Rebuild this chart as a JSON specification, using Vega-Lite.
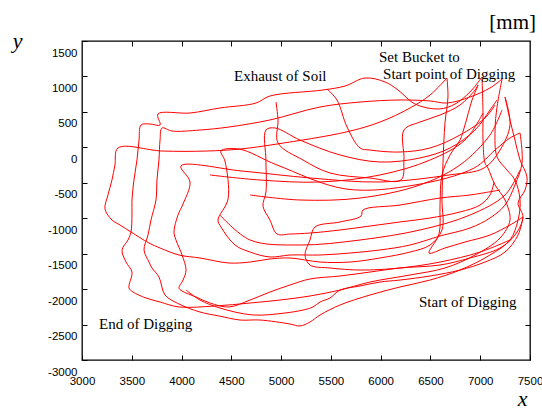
{
  "$schema": "https://vega.github.io/schema/vega-lite/v6.json",
  "width": 448,
  "height": 319,
  "autosize": {"type": "none"},
  "padding": {"left": 82, "top": 41, "right": 12, "bottom": 49},
  "background": "white",
  "config": {
    "view": {"stroke": "#000", "strokeWidth": 1.3},
    "axis": {"domain": false, "grid": false, "tickColor": "#000", "tickWidth": 1, "labelColor": "#000", "labelFont": "Liberation Sans", "labelFontSize": 11.5, "labelFlush": false}
  },
  "title": {"text": "[mm]", "anchor": "end", "frame": "group", "orient": "top", "font": "Liberation Serif", "fontSize": 21, "fontWeight": "normal", "color": "#000", "offset": -4, "dx": 6},
  "datasets": {
    "paths": [
      {"c":1,"i":1,"x":6666,"y":978},{"c":1,"i":2,"x":6676,"y":710},{"c":1,"i":3,"x":6646,"y":343},{"c":1,"i":4,"x":6626,"y":-221},{"c":1,"i":5,"x":6616,"y":-743},{"c":1,"i":6,"x":6616,"y":-1166},{"c":1,"i":7,"x":6496,"y":-1378},{"c":1,"i":8,"x":6295,"y":-1477},{"c":1,"i":9,"x":5993,"y":-1561},{"c":1,"i":10,"x":5692,"y":-1618},{"c":1,"i":11,"x":5391,"y":-1618},{"c":1,"i":12,"x":5089,"y":-1561},{"c":1,"i":13,"x":4888,"y":-1575},{"c":1,"i":14,"x":4688,"y":-1618},{"c":1,"i":15,"x":4477,"y":-1632},{"c":1,"i":16,"x":4185,"y":-1561},{"c":1,"i":17,"x":3974,"y":-1519},{"c":1,"i":18,"x":3784,"y":-1420},{"c":1,"i":19,"x":3673,"y":-1350},{"c":1,"i":20,"x":3492,"y":-1194},{"c":1,"i":21,"x":3382,"y":-1096},{"c":1,"i":22,"x":3301,"y":-1025},{"c":1,"i":23,"x":3231,"y":-870},{"c":1,"i":24,"x":3261,"y":-672},{"c":1,"i":25,"x":3301,"y":-461},{"c":1,"i":26,"x":3331,"y":-249},{"c":1,"i":27,"x":3362,"y":-9},{"c":1,"i":28,"x":3804,"y":-52},{"c":1,"i":29,"x":4256,"y":-52},{"c":1,"i":30,"x":4587,"y":-24},{"c":1,"i":31,"x":4959,"y":47},{"c":1,"i":32,"x":5652,"y":216},{"c":1,"i":33,"x":5993,"y":357},{"c":1,"i":34,"x":6295,"y":555},{"c":1,"i":35,"x":6496,"y":738},{"c":1,"i":36,"x":6666,"y":978},

      {"c":2,"i":1,"x":7018,"y":992},{"c":2,"i":2,"x":7028,"y":484},{"c":2,"i":3,"x":7028,"y":103},{"c":2,"i":4,"x":7048,"y":-221},{"c":2,"i":5,"x":7078,"y":-292},{"c":2,"i":6,"x":7149,"y":-531},{"c":2,"i":7,"x":7249,"y":-743},{"c":2,"i":8,"x":7299,"y":-1025},{"c":2,"i":9,"x":7199,"y":-1279},{"c":2,"i":10,"x":6948,"y":-1519},{"c":2,"i":11,"x":6646,"y":-1702},{"c":2,"i":12,"x":6295,"y":-1801},{"c":2,"i":13,"x":5893,"y":-1900},{"c":2,"i":14,"x":5592,"y":-2013},{"c":2,"i":15,"x":5290,"y":-2097},{"c":2,"i":16,"x":4989,"y":-2154},{"c":2,"i":17,"x":4688,"y":-2196},{"c":2,"i":18,"x":4336,"y":-2238},{"c":2,"i":19,"x":3974,"y":-2252},{"c":2,"i":20,"x":3784,"y":-2182},{"c":2,"i":21,"x":3643,"y":-2125},{"c":2,"i":22,"x":3512,"y":-2041},{"c":2,"i":23,"x":3472,"y":-1984},{"c":2,"i":24,"x":3502,"y":-1759},{"c":2,"i":25,"x":3442,"y":-1618},{"c":2,"i":26,"x":3402,"y":-1448},{"c":2,"i":27,"x":3462,"y":-1307},{"c":2,"i":28,"x":3492,"y":-1194},{"c":2,"i":29,"x":3502,"y":-955},{"c":2,"i":30,"x":3502,"y":-743},{"c":2,"i":31,"x":3522,"y":-461},{"c":2,"i":32,"x":3552,"y":-179},{"c":2,"i":33,"x":3573,"y":103},{"c":2,"i":34,"x":3593,"y":315},{"c":2,"i":35,"x":3683,"y":329},{"c":2,"i":36,"x":3784,"y":315},{"c":2,"i":37,"x":3763,"y":470},{"c":2,"i":38,"x":4085,"y":484},{"c":2,"i":39,"x":4386,"y":555},{"c":2,"i":40,"x":4748,"y":625},{"c":2,"i":41,"x":4888,"y":724},{"c":2,"i":42,"x":5421,"y":809},{"c":2,"i":43,"x":5642,"y":865},{"c":2,"i":44,"x":5843,"y":978},{"c":2,"i":45,"x":6044,"y":922},{"c":2,"i":46,"x":6174,"y":809},{"c":2,"i":47,"x":6345,"y":611},{"c":2,"i":48,"x":6586,"y":541},{"c":2,"i":49,"x":6747,"y":611},{"c":2,"i":50,"x":6897,"y":781},{"c":2,"i":51,"x":7018,"y":992},

      {"c":3,"i":1,"x":7219,"y":964},{"c":3,"i":2,"x":7169,"y":569},{"c":3,"i":3,"x":7149,"y":244},{"c":3,"i":4,"x":7169,"y":-136},{"c":3,"i":5,"x":7269,"y":-320},{"c":3,"i":6,"x":7349,"y":-461},{"c":3,"i":7,"x":7400,"y":-743},{"c":3,"i":8,"x":7380,"y":-1025},{"c":3,"i":9,"x":7299,"y":-1307},{"c":3,"i":10,"x":7098,"y":-1519},{"c":3,"i":11,"x":6797,"y":-1731},{"c":3,"i":12,"x":6496,"y":-1872},{"c":3,"i":13,"x":6194,"y":-1970},{"c":3,"i":14,"x":5893,"y":-2083},{"c":3,"i":15,"x":5592,"y":-2224},{"c":3,"i":16,"x":5391,"y":-2365},{"c":3,"i":17,"x":5290,"y":-2464},{"c":3,"i":18,"x":5190,"y":-2520},{"c":3,"i":19,"x":5089,"y":-2492},{"c":3,"i":20,"x":4788,"y":-2436},{"c":3,"i":21,"x":4587,"y":-2436},{"c":3,"i":22,"x":4376,"y":-2379},{"c":3,"i":23,"x":4185,"y":-2323},{"c":3,"i":24,"x":3974,"y":-2210},{"c":3,"i":25,"x":3834,"y":-2083},{"c":3,"i":26,"x":3773,"y":-1829},{"c":3,"i":27,"x":3703,"y":-1702},{"c":3,"i":28,"x":3673,"y":-1618},{"c":3,"i":29,"x":3623,"y":-1448},{"c":3,"i":30,"x":3663,"y":-1237},{"c":3,"i":31,"x":3693,"y":-1025},{"c":3,"i":32,"x":3743,"y":-743},{"c":3,"i":33,"x":3753,"y":-461},{"c":3,"i":34,"x":3773,"y":-179},{"c":3,"i":35,"x":3784,"y":103},{"c":3,"i":36,"x":3804,"y":273},{"c":3,"i":37,"x":3904,"y":230},{"c":3,"i":38,"x":4185,"y":244},{"c":3,"i":39,"x":4477,"y":287},{"c":3,"i":40,"x":4888,"y":386},{"c":3,"i":41,"x":5391,"y":569},{"c":3,"i":42,"x":5793,"y":639},{"c":3,"i":43,"x":6194,"y":668},{"c":3,"i":44,"x":6496,"y":654},{"c":3,"i":45,"x":6666,"y":625},{"c":3,"i":46,"x":6897,"y":710},{"c":3,"i":47,"x":7098,"y":837},{"c":3,"i":48,"x":7219,"y":964},

      {"c":4,"i":1,"x":7249,"y":710},{"c":4,"i":2,"x":7299,"y":386},{"c":4,"i":3,"x":7349,"y":103},{"c":4,"i":4,"x":7400,"y":-179},{"c":4,"i":5,"x":7470,"y":-419},{"c":4,"i":6,"x":7450,"y":-602},{"c":4,"i":7,"x":7380,"y":-785},{"c":4,"i":8,"x":7430,"y":-983},{"c":4,"i":9,"x":7349,"y":-1237},{"c":4,"i":10,"x":7199,"y":-1420},{"c":4,"i":11,"x":6897,"y":-1561},{"c":4,"i":12,"x":6596,"y":-1660},{"c":4,"i":13,"x":6194,"y":-1702},{"c":4,"i":14,"x":5893,"y":-1759},{"c":4,"i":15,"x":5592,"y":-1815},{"c":4,"i":16,"x":5290,"y":-1857},{"c":4,"i":17,"x":5089,"y":-1942},{"c":4,"i":18,"x":4888,"y":-2041},{"c":4,"i":19,"x":4688,"y":-2154},{"c":4,"i":20,"x":4477,"y":-2252},{"c":4,"i":21,"x":4286,"y":-2196},{"c":4,"i":22,"x":4145,"y":-2111},{"c":4,"i":23,"x":4005,"y":-2027},{"c":4,"i":24,"x":3974,"y":-1984},{"c":4,"i":25,"x":4015,"y":-1872},{"c":4,"i":26,"x":4045,"y":-1731},{"c":4,"i":27,"x":4005,"y":-1519},{"c":4,"i":28,"x":3944,"y":-1307},{"c":4,"i":29,"x":3924,"y":-1194},{"c":4,"i":30,"x":3964,"y":-955},{"c":4,"i":31,"x":4015,"y":-799},{"c":4,"i":32,"x":4085,"y":-489},{"c":4,"i":33,"x":3994,"y":-263},{"c":4,"i":34,"x":4607,"y":-334},{"c":4,"i":35,"x":5300,"y":-433},{"c":4,"i":36,"x":5993,"y":-489},{"c":4,"i":37,"x":6687,"y":-390},{"c":4,"i":38,"x":7038,"y":-292},{"c":4,"i":39,"x":7199,"y":-38},{"c":4,"i":40,"x":7299,"y":315},{"c":4,"i":41,"x":7249,"y":710},

      {"c":5,"i":1,"x":7400,"y":202},{"c":5,"i":2,"x":7420,"y":-221},{"c":5,"i":3,"x":7349,"y":-531},{"c":5,"i":4,"x":7249,"y":-814},{"c":5,"i":5,"x":7098,"y":-997},{"c":5,"i":6,"x":6897,"y":-1138},{"c":5,"i":7,"x":6596,"y":-1251},{"c":5,"i":8,"x":6295,"y":-1378},{"c":5,"i":9,"x":5993,"y":-1448},{"c":5,"i":10,"x":5692,"y":-1491},{"c":5,"i":11,"x":5391,"y":-1519},{"c":5,"i":12,"x":5089,"y":-1519},{"c":5,"i":13,"x":4888,"y":-1547},{"c":5,"i":14,"x":4688,"y":-1477},{"c":5,"i":15,"x":4537,"y":-1378},{"c":5,"i":16,"x":4396,"y":-1124},{"c":5,"i":17,"x":4366,"y":-1025},{"c":5,"i":18,"x":4467,"y":-729},{"c":5,"i":19,"x":4436,"y":-193},{"c":5,"i":20,"x":4396,"y":-52},{"c":5,"i":21,"x":4577,"y":-24},{"c":5,"i":22,"x":4959,"y":-249},{"c":5,"i":23,"x":5652,"y":-588},{"c":5,"i":24,"x":6345,"y":-531},{"c":5,"i":25,"x":6938,"y":-292},{"c":5,"i":26,"x":7149,"y":-38},{"c":5,"i":27,"x":7299,"y":132},{"c":5,"i":28,"x":7400,"y":202},

      {"c":6,"i":1,"x":7139,"y":-489},{"c":6,"i":2,"x":7098,"y":-672},{"c":6,"i":3,"x":6998,"y":-814},{"c":6,"i":4,"x":6797,"y":-912},{"c":6,"i":5,"x":6496,"y":-997},{"c":6,"i":6,"x":6194,"y":-1053},{"c":6,"i":7,"x":5893,"y":-1110},{"c":6,"i":8,"x":5592,"y":-1166},{"c":6,"i":9,"x":5290,"y":-1209},{"c":6,"i":10,"x":5089,"y":-1223},{"c":6,"i":11,"x":4959,"y":-1223},{"c":6,"i":12,"x":4888,"y":-1025},{"c":6,"i":13,"x":4818,"y":-828},{"c":6,"i":14,"x":4848,"y":-630},{"c":6,"i":15,"x":4848,"y":-193},{"c":6,"i":16,"x":4848,"y":244},{"c":6,"i":17,"x":4939,"y":273},{"c":6,"i":18,"x":5190,"y":103},{"c":6,"i":19,"x":5592,"y":-108},{"c":6,"i":20,"x":5993,"y":-207},{"c":6,"i":21,"x":6395,"y":-150},{"c":6,"i":22,"x":6697,"y":-9},{"c":6,"i":23,"x":6948,"y":244},{"c":6,"i":24,"x":7098,"y":527},{"c":6,"i":25,"x":7169,"y":668},

      {"c":7,"i":1,"x":4949,"y":639},{"c":7,"i":2,"x":4969,"y":386},{"c":7,"i":3,"x":4969,"y":61},{"c":7,"i":4,"x":5220,"y":-179},{"c":7,"i":5,"x":5491,"y":-362},{"c":7,"i":6,"x":5893,"y":-433},{"c":7,"i":7,"x":6204,"y":-461},{"c":7,"i":8,"x":6234,"y":-179},{"c":7,"i":9,"x":6234,"y":244},{"c":7,"i":10,"x":6395,"y":357},{"c":7,"i":11,"x":6596,"y":456},{"c":7,"i":12,"x":6797,"y":597},{"c":7,"i":13,"x":6948,"y":809},{"c":7,"i":14,"x":6978,"y":879},{"c":7,"i":15,"x":6918,"y":668},{"c":7,"i":16,"x":6847,"y":315},{"c":7,"i":17,"x":6797,"y":103},{"c":7,"i":18,"x":6697,"y":-108},{"c":7,"i":19,"x":6616,"y":-390},{"c":7,"i":20,"x":6596,"y":-814},{"c":7,"i":21,"x":6586,"y":-1223},{"c":7,"i":22,"x":6486,"y":-1491},{"c":7,"i":23,"x":6646,"y":-1420},{"c":7,"i":24,"x":6847,"y":-1336},{"c":7,"i":25,"x":7098,"y":-1237},{"c":7,"i":26,"x":7299,"y":-1096},{"c":7,"i":27,"x":7430,"y":-983},

      {"c":8,"i":1,"x":5461,"y":823},{"c":8,"i":2,"x":5561,"y":668},{"c":8,"i":3,"x":5662,"y":287},{"c":8,"i":4,"x":5793,"y":-9},{"c":8,"i":5,"x":5893,"y":-38},{"c":8,"i":6,"x":6194,"y":-66},{"c":8,"i":7,"x":6496,"y":-9},{"c":8,"i":8,"x":6797,"y":174},{"c":8,"i":9,"x":7048,"y":414},{"c":8,"i":10,"x":7149,"y":597},

      {"c":9,"i":1,"x":7199,"y":-602},{"c":9,"i":2,"x":6897,"y":-672},{"c":9,"i":3,"x":6596,"y":-715},{"c":9,"i":4,"x":6194,"y":-814},{"c":9,"i":5,"x":5823,"y":-884},{"c":9,"i":6,"x":5803,"y":-969},{"c":9,"i":7,"x":5592,"y":-1053},{"c":9,"i":8,"x":5340,"y":-1124},{"c":9,"i":9,"x":5290,"y":-1307},{"c":9,"i":10,"x":5240,"y":-1519},{"c":9,"i":11,"x":5290,"y":-1660},{"c":9,"i":12,"x":5491,"y":-1702},{"c":9,"i":13,"x":5793,"y":-1731},{"c":9,"i":14,"x":6194,"y":-1702},{"c":9,"i":15,"x":6596,"y":-1618},{"c":9,"i":16,"x":6998,"y":-1477},{"c":9,"i":17,"x":7299,"y":-1307},

      {"c":10,"i":1,"x":7430,"y":-983},{"c":10,"i":2,"x":7380,"y":-1237},{"c":10,"i":3,"x":7249,"y":-1477},{"c":10,"i":4,"x":7048,"y":-1618},{"c":10,"i":5,"x":6797,"y":-1731},{"c":10,"i":6,"x":6496,"y":-1815},{"c":10,"i":7,"x":6194,"y":-1872},{"c":10,"i":8,"x":5993,"y":-1900},{"c":10,"i":9,"x":5793,"y":-1956},{"c":10,"i":10,"x":5592,"y":-2013},{"c":10,"i":11,"x":5491,"y":-2125},{"c":10,"i":12,"x":5391,"y":-2182},{"c":10,"i":13,"x":5320,"y":-2252},{"c":10,"i":14,"x":5220,"y":-2295},{"c":10,"i":15,"x":5039,"y":-2337},{"c":10,"i":16,"x":4718,"y":-2365},{"c":10,"i":17,"x":4386,"y":-2267},{"c":10,"i":18,"x":4185,"y":-2154},{"c":10,"i":19,"x":4045,"y":-2013},

      {"c":11,"i":1,"x":4286,"y":-390},{"c":11,"i":2,"x":4788,"y":-461},{"c":11,"i":3,"x":5391,"y":-489},{"c":11,"i":4,"x":5993,"y":-390},{"c":11,"i":5,"x":6496,"y":-179},{"c":11,"i":6,"x":6847,"y":103},{"c":11,"i":7,"x":7028,"y":484},

      {"c":12,"i":1,"x":4688,"y":-672},{"c":12,"i":2,"x":5190,"y":-743},{"c":12,"i":3,"x":5793,"y":-715},{"c":12,"i":4,"x":6395,"y":-531},{"c":12,"i":5,"x":6797,"y":-249},{"c":12,"i":6,"x":7098,"y":174},{"c":12,"i":7,"x":7219,"y":527},

      {"c":13,"i":1,"x":4386,"y":-955},{"c":13,"i":2,"x":4688,"y":-1307},{"c":13,"i":3,"x":5190,"y":-1378},{"c":13,"i":4,"x":5793,"y":-1307},{"c":13,"i":5,"x":6395,"y":-1166},{"c":13,"i":6,"x":6897,"y":-955},{"c":13,"i":7,"x":7249,"y":-672},{"c":13,"i":8,"x":7400,"y":-320}
    ],
    "notes": [
      {"t": "Exhaust of Soil", "x": 4527, "y": 1006},
      {"t": "Set Bucket  to", "x": 5983, "y": 1280},
      {"t": "Start point of Digging", "x": 6024, "y": 1034},
      {"t": "Start of Digging", "x": 6385, "y": -2182},
      {"t": "End of Digging", "x": 3171, "y": -2492}
    ]
  },
  "layer": [
    {
      "data": {"name": "paths"},
      "mark": {"type": "line", "color": "#ff0000", "strokeWidth": 1, "clip": true, "interpolate": "catmull-rom"},
      "encoding": {
        "x": {"field": "x", "type": "quantitative", "scale": {"domain": [3000, 7500], "nice": false, "zero": false},
          "axis": {"orient": "bottom", "values": [3000,3500,4000,4500,5000,5500,6000,6500,7000,7500], "labelExpr": "datum.value + ''", "labelFlush": false, "tickSize": -5, "labelPadding": 20, "title": "x", "titleFont": "Liberation Serif", "titleFontStyle": "italic", "titleFontWeight": "normal", "titleFontSize": 22, "titleX": 440, "titleY": 45, "titleBaseline": "alphabetic", "titleAlign": "center"}},
        "y": {"field": "y", "type": "quantitative", "scale": {"domain": [-3000, 1500], "nice": false, "zero": false},
          "axis": {"orient": "left", "values": [-3000,-2500,-2000,-1500,-1000,-500,0,500,1000,1500], "labelExpr": "datum.value + ''", "labelFlush": false, "tickSize": -5, "labelPadding": 10, "labelOffset": 12, "title": "y", "titleAngle": 0, "titleFont": "Liberation Serif", "titleFontStyle": "italic", "titleFontWeight": "normal", "titleFontSize": 22, "titleX": -65, "titleY": 6, "titleBaseline": "alphabetic", "titleAlign": "center"}},
        "detail": {"field": "c", "type": "nominal"},
        "order": {"field": "i", "type": "quantitative"}
      }
    },
    {
      "data": {"name": "notes"},
      "mark": {"type": "text", "align": "left", "baseline": "middle", "font": "Liberation Serif", "fontSize": 15, "color": "#000"},
      "encoding": {
        "x": {"field": "x", "type": "quantitative", "scale": {"domain": [3000, 7500], "nice": false, "zero": false},
          "axis": {"orient": "top", "values": [3500,4000,4500,5000,5500,6000,6500,7000], "tickSize": -5, "labels": false, "title": null}},
        "y": {"field": "y", "type": "quantitative", "scale": {"domain": [-3000, 1500], "nice": false, "zero": false},
          "axis": {"orient": "right", "values": [-2500,-2000,-1500,-1000,-500,0,500,1000], "tickSize": -5, "labels": false, "title": null}},
        "text": {"field": "t", "type": "nominal"}
      }
    }
  ],
  "resolve": {"axis": {"x": "independent", "y": "independent"}}
}
